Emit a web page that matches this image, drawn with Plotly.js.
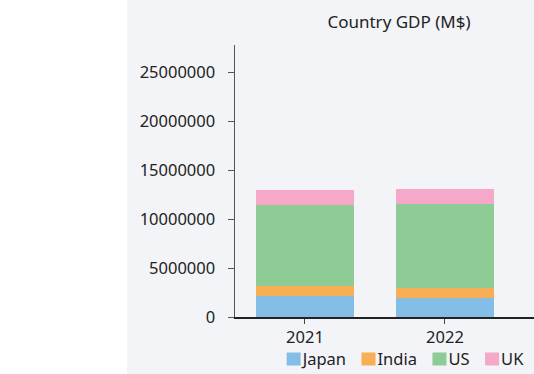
<!DOCTYPE html>
<html><head><meta charset="utf-8">
<script src="https://cdn.plot.ly/plotly-3.0.1.min.js"></script>
<style>
html,body{margin:0;padding:0;}
body{width:534px;height:374px;background:linear-gradient(to right,#ffffff 0px,#ffffff 127px,#f3f4f8 127px,#f3f4f8 100%);}
#chart{width:534px;height:374px;}
</style></head>
<body><div id="chart"></div>
<script>
const years = ['2021', '2022'];
const japan = [2170000, 1940000];
const india = [960000, 990000];
const us = [8270000, 8630000];
const uk = [1590000, 1470000];
const seriesNames = ['Japan', 'India', 'US', 'UK'];
const seriesColors = ['#84bde6', '#f7ae55', '#8fcb94', '#f5a8c7'];
const yTicks = [0, 5000000, 10000000, 15000000, 20000000, 25000000];

const series = [japan, india, us, uk];
const traces = series.map((vals, i) => ({
  type: 'bar', x: years, y: vals, name: seriesNames[i],
  marker: {color: seriesColors[i], line: {width: 0}},
  hoverinfo: 'none'
}));

const fam = '"Segoe UI", "Noto Sans", sans-serif';
const font = {family: fam, size: 16.5, color: '#222'};
const legendFontSize = 16.5;
const layout = {
  width: 534, height: 374,
  margin: {l: 235, r: 0, t: 45, b: 57, autoexpand: false},
  paper_bgcolor: 'rgba(0,0,0,0)', plot_bgcolor: 'rgba(0,0,0,0)',
  font: font,
  barmode: 'stack', bargap: 0.3,
  showlegend: true,
  title: {text: 'Country GDP (M$)', font: {family: fam, size: 17, color: '#222'},
          x: 0.5485, xref: 'paper', xanchor: 'center', y: 0.94, yanchor: 'middle'},
  xaxis: {type: 'category', range: [-0.5, 1.636], showline: true, linecolor: '#222', linewidth: 1.5,
          ticks: 'outside', ticklen: 5, tickcolor: '#444', showgrid: false, zeroline: false,
          tickfont: font, fixedrange: true},
  yaxis: {range: [0, 27755102], tickvals: yTicks, tickformat: 'd', showline: true, linecolor: '#555',
          linewidth: 1.5, ticks: 'outside', ticklen: 6, tickcolor: '#555', showgrid: false, zeroline: false,
          tickfont: font, ticklabelstandoff: 9, fixedrange: true},
  legend: {orientation: 'h', xref: 'container', yref: 'container', x: 1, xanchor: 'right',
           y: 0.0401, yanchor: 'middle',
           font: {family: fam, size: 9, color: '#222'}, bgcolor: 'rgba(0,0,0,0)', traceorder: 'normal', itemwidth: 30}
};
Plotly.newPlot('chart', traces, layout, {staticPlot: true, displayModeBar: false}).then(gd => {
  // tighten legend entries: larger text and swatch, small swatch-to-text gap
  const items = Array.from(gd.querySelectorAll('g.legend .traces'));
  if (!items.length) return;
  const sb = gd.querySelector('g.legend .scrollbox');
  if (sb) sb.removeAttribute('clip-path');
  const parent = items[0].parentNode;
  const m = parent.getCTM();
  const gap = 15.5;
  const centerY = 359;
  const widths = items.map(g => {
    const t = g.querySelector('text.legendtext');
    t.style.fontSize = legendFontSize + 'px';
    t.setAttribute('x', 29);
    t.setAttribute('y', (legendFontSize * 0.35).toFixed(2));
    g.querySelectorAll('.legendpoints path').forEach(p => p.setAttribute('d', 'M7,6.5H-7V-6.5H7Z'));
    return 16 + t.getComputedTextLength();
  });
  const total = widths.reduce((a, b) => a + b, 0) + gap * (widths.length - 1);
  let x = 405 - total / 2;
  items.forEach((g, i) => {
    g.setAttribute('transform', 'translate(' + (x - 13 - m.e) + ',' + (centerY - m.f) + ')');
    x += widths[i] + gap;
  });
});
</script></body></html>
